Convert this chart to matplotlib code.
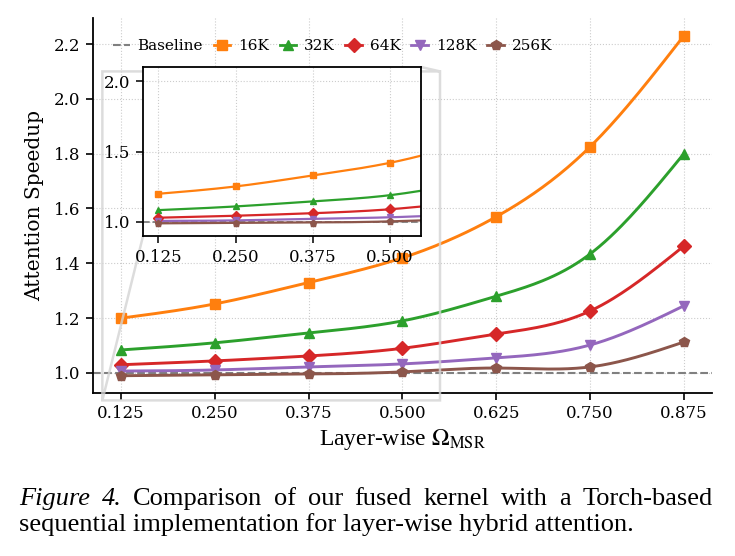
import numpy as np
import matplotlib.pyplot as plt

plt.rcParams['mathtext.fontset'] = 'stix'

omega = [0.125, 0.250, 0.375, 0.500, 0.625, 0.750, 0.875]
labels = ['16K', '32K', '64K', '128K', '256K']
speedup_16k = [1.200, 1.252, 1.330, 1.420, 1.570, 1.825, 2.230]
speedup_32k = [1.084, 1.110, 1.146, 1.190, 1.280, 1.434, 1.800]
speedup_64k = [1.030, 1.044, 1.062, 1.090, 1.142, 1.226, 1.463]
speedup_128k = [1.007, 1.011, 1.022, 1.033, 1.055, 1.102, 1.245]
speedup_256k = [0.990, 0.993, 0.996, 1.004, 1.018, 1.022, 1.113]
series = [speedup_16k, speedup_32k, speedup_64k, speedup_128k, speedup_256k]
colors = ['#ff7f0e', '#2ca02c', '#d62728', '#9467bd', '#8c564b']
markers = ['s', '^', 'D', 'v', 'p']

caption_1 = 'Figure 4. Comparison of our fused kernel with a Torch-based'
caption_2 = 'sequential implementation for layer-wise hybrid attention.'


def smooth(x, y, n=200):
    # natural cubic spline, only used to draw the curve between the points
    x = np.asarray(x, float)
    y = np.asarray(y, float)
    k = len(x)
    h = np.diff(x)
    A = np.zeros((k, k))
    b = np.zeros(k)
    A[0, 0] = A[-1, -1] = 1
    for i in range(1, k - 1):
        A[i, i - 1] = h[i - 1]
        A[i, i] = 2 * (h[i - 1] + h[i])
        A[i, i + 1] = h[i]
        b[i] = 6 * ((y[i + 1] - y[i]) / h[i] - (y[i] - y[i - 1]) / h[i - 1])
    m = np.linalg.solve(A, b)
    xs = np.linspace(x[0], x[-1], n)
    idx = np.clip(np.searchsorted(x, xs) - 1, 0, k - 2)
    t0 = x[idx]
    t1 = x[idx + 1]
    hh = t1 - t0
    ys = (m[idx] * (t1 - xs) ** 3 / (6 * hh) + m[idx + 1] * (xs - t0) ** 3 / (6 * hh)
          + (y[idx] / hh - m[idx] * hh / 6) * (t1 - xs)
          + (y[idx + 1] / hh - m[idx + 1] * hh / 6) * (xs - t0))
    return xs, ys


fig = plt.figure(figsize=(7.35, 5.56), dpi=100)
ax = fig.add_axes([0.1265, 0.2932, 0.8422, 0.6745])

ax.axhline(1.0, color='gray', ls='--', lw=1.5, label='Baseline', zorder=1)
for ys, lab, c, mk in zip(series, labels, colors, markers):
    xs, yy = smooth(omega, ys)
    ax.plot(xs, yy, color=c, lw=2.1, zorder=2)
    ax.plot(omega, ys, ls='none', marker=mk, color=c, ms=7, zorder=3)
    ax.plot([], [], color=c, lw=2, marker=mk, ms=7, label=lab)

ax.set_xticks(omega)
ax.set_xticklabels([f'{v:.3f}' for v in omega])
ax.set_yticks([1.0, 1.2, 1.4, 1.6, 1.8, 2.0, 2.2])
ax.set_xlim(0.0875, 0.9125)
ax.set_ylim(0.927, 2.295)
for lbl in ax.get_xticklabels() + ax.get_yticklabels():
    lbl.set_fontfamily('DejaVu Serif')
    lbl.set_fontsize(12)
ax.tick_params(direction='out', length=5, width=1.2, pad=4)
ax.spines['top'].set_visible(False)
ax.spines['right'].set_visible(False)
ax.spines['left'].set_linewidth(1.3)
ax.spines['bottom'].set_linewidth(1.3)
ax.grid(True, ls=':', color='#cccccc', lw=0.8)
ax.set_axisbelow(True)

ax.set_ylabel('Attention Speedup', fontsize=14.5, fontfamily='DejaVu Serif', labelpad=7)
ax.set_xlabel(r'Layer-wise $\Omega_{\mathrm{MSR}}$', fontsize=17,
              fontfamily='Liberation Serif', labelpad=3)

leg = ax.legend(loc='center left', bbox_to_anchor=(0.01, 0.925), ncol=6, frameon=False,
                prop={'family': 'DejaVu Serif', 'size': 11}, handlelength=1.1,
                handletextpad=0.5, columnspacing=0.7)

# inset
axins = fig.add_axes([0.1946, 0.5755, 0.3782, 0.3040])
axins.axhline(1.0, color='gray', ls='--', lw=1.3, zorder=1)
for ys, c, mk in zip(series, colors, markers):
    xs, yy = smooth(omega, ys)
    axins.plot(xs, yy, color=c, lw=1.6, zorder=2)
    axins.plot(omega, ys, ls='none', marker=mk, color=c, ms=5, zorder=3)
axins.set_xlim(0.1, 0.55)
axins.set_ylim(0.9, 2.1)
axins.set_xticks(omega[:4])
axins.set_xticklabels([f'{v:.3f}' for v in omega[:4]])
axins.set_yticks([1.0, 1.5, 2.0])
for lbl in axins.get_xticklabels() + axins.get_yticklabels():
    lbl.set_fontfamily('DejaVu Serif')
    lbl.set_fontsize(12)
axins.tick_params(direction='out', length=5, width=1.1, pad=4)
for s in axins.spines.values():
    s.set_linewidth(1.3)
axins.grid(True, ls=':', color='#cccccc', lw=0.8)
axins.set_axisbelow(True)

ax.indicate_inset_zoom(axins, edgecolor='#d4d4d4', lw=1.8, alpha=0.8)

# caption: first line justified between the margins, second line left aligned
renderer = fig.canvas.get_renderer()
left_px, right_px = 19, 713
y1 = 1 - 505 / 556
y2 = 1 - 531 / 556
words = caption_1.split()
texts = []
for i, w in enumerate(words):
    texts.append(fig.text(0, y1, w, fontsize=19, fontfamily='Liberation Serif',
                          fontstyle='italic' if i < 2 else 'normal',
                          ha='left', va='baseline'))
widths = [t.get_window_extent(renderer).width for t in texts]
gap = (right_px - left_px - sum(widths)) / (len(words) - 1)
x = left_px
for t, w in zip(texts, widths):
    t.set_x(x / 735)
    x += w + gap
fig.text(left_px / 735, y2, caption_2, fontsize=19, fontfamily='Liberation Serif',
         ha='left', va='baseline')

fig.savefig('out.png', dpi=100)
